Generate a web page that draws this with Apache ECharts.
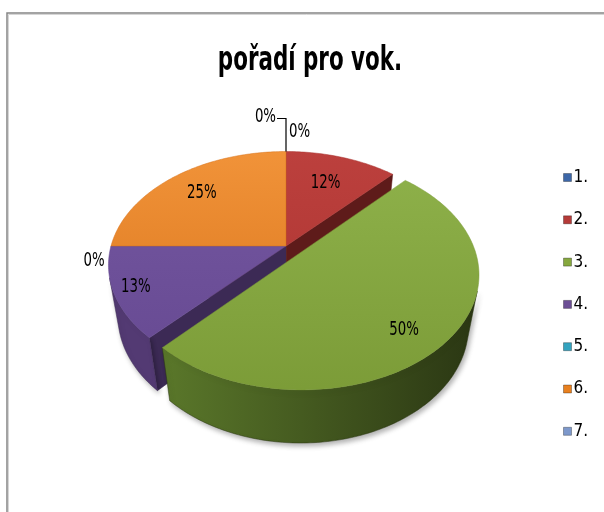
<!DOCTYPE html>
<html>
<head>
<meta charset="utf-8">
<title>pořadí pro vok.</title>
<script src="https://cdn.jsdelivr.net/npm/echarts@6/dist/echarts.min.js"></script>
<style>
  html, body { margin: 0; padding: 0; background: #fff; }
  #chart { width: 604px; height: 512px; }
</style>
</head>
<body>
<div id="chart"></div>
<script>
const categories = ['1.', '2.', '3.', '4.', '5.', '6.', '7.'];
const shares = [0, 12, 50, 13, 0, 25, 0];
const chartTitle = 'pořadí pro vok.';
const explodedSlice = '3.';

const FONT = "'Liberation Sans Narrow', 'DejaVu Sans Condensed', sans-serif";

// office 2007 colours, roughly as excel shades them
const legendColors = ['#3D67A8', '#B53A38', '#86A83E', '#6C4E95', '#33A3BF', '#E8801F', '#7D98CB'];
const topShade = {
  1: ['#BC403D', '#A9322F'],
  2: ['#8FB24B', '#7B9B37'],
  3: ['#7457A1', '#654890'],
  5: ['#F19339', '#D67118']
};
const wallShade = {
  1: ['#7A2624', '#5E1B1A'],
  2: ['#5C7A2B', '#2A3613'],
  3: ['#533A73', '#3C2A55'],
  5: ['#A85B18', '#8A4710']
};
// where the inner labels sit: radius (1 = rim) and a small turn in radians
const labelRadius = { 1: 0.68, 2: 0.8, 3: 0.88, 5: 0.74 };
const labelTurn = { 2: 0.1 };
// labels of empty slices, offset from their rim point
const zeroLabel = {
  0: { dx: 3, dy: -20, align: 'left' },
  4: { dx: -17, dy: 15, align: 'center' },
  6: { dx: -10, dy: -35, align: 'right', leader: true }
};

const total = shares.reduce((a, b) => a + b, 0);
const starts = [];
let acc = 0;
shares.forEach(v => { starts.push(acc / total * Math.PI * 2); acc += v; });
const explodedIndex = categories.indexOf(explodedSlice);

// simple perspective view of the tilted disc
const view = { cx: 286, cy: 246, f: 175, sinA: 0.631, cosA: 0.776, dist: 4.6, height: 0.4, explode: 0.1 };

function project(x, y, z) {
  const up = y * view.cosA - z * view.sinA;
  const dep = y * view.sinA + z * view.cosA;
  const s = view.dist / (view.dist - dep);
  return [view.cx + view.f * x * s, view.cy - view.f * up * s];
}
function depth(x, y, z) {
  return y * view.sinA + z * view.cosA;
}
// normal . (camera - point) > 0 means the face looks at us
function facing(n, p) {
  const c = [0, view.dist * view.sinA, view.dist * view.cosA];
  return n[0] * (c[0] - p[0]) + n[1] * (c[1] - p[1]) + n[2] * (c[2] - p[2]) > 0;
}

// the excel font is tall and narrow, squeeze ours a bit
function labelText(x, y, text, align) {
  return {
    type: 'text', z2: 200, x, y, scaleX: 0.74,
    style: { text, fill: '#000', fontSize: 20, fontFamily: FONT, align, verticalAlign: 'middle' }
  };
}

function renderSlice(params, api) {
  const i = params.dataIndex;
  const v = api.value(0);
  const a0 = starts[i];
  const a1 = a0 + v / total * Math.PI * 2;
  const mid = (a0 + a1) / 2;
  const ex = i === explodedIndex ? view.explode : 0;
  const ox = ex * Math.sin(mid);
  const oz = -ex * Math.cos(mid);
  const h = view.height;
  const pt3 = (a, r, y) => [ox + r * Math.sin(a), y, oz - r * Math.cos(a)];
  const rim = (a, r, y) => project.apply(null, pt3(a, r, y));
  const children = [];
  const pct = Math.round(v / total * 100) + '%';

  if (v > 0) {
    const steps = Math.max(2, Math.ceil((a1 - a0) / (Math.PI / 180)));
    const angles = [];
    for (let k = 0; k <= steps; k++) angles.push(a0 + (a1 - a0) * k / steps);

    // top face
    const topPts = [rim(0, 0, 0)].concat(angles.map(a => rim(a, 1, 0)));
    children.push({
      type: 'polygon', z2: 100,
      shape: { points: topPts },
      style: {
        fill: new echarts.graphic.LinearGradient(0, 150, 0, 400, [
          { offset: 0, color: topShade[i][0] }, { offset: 1, color: topShade[i][1] }
        ], true),
        stroke: topShade[i][1], lineWidth: 0.5
      }
    });

    // outer wall, only the parts turned to the viewer
    let run = [];
    const flush = () => {
      if (run.length > 1) {
        const pts = run.map(a => rim(a, 1, 0)).concat(run.slice().reverse().map(a => rim(a, 1, -h)));
        const am = run[Math.floor(run.length / 2)];
        children.push({
          type: 'polygon', z2: 10 + depth.apply(null, pt3(am, 1, -h / 2)) * 10,
          shape: { points: pts },
          style: {
            fill: new echarts.graphic.LinearGradient(150, 0, 480, 0, [
              { offset: 0, color: wallShade[i][0] }, { offset: 1, color: wallShade[i][1] }
            ], true),
            stroke: wallShade[i][1], lineWidth: 0.5,
            shadowBlur: 5, shadowColor: 'rgba(0,0,0,0.3)', shadowOffsetX: 2, shadowOffsetY: 3
          }
        });
      }
      run = [];
    };
    for (let k = 0; k < steps; k++) {
      const am = (angles[k] + angles[k + 1]) / 2;
      const vis = facing([Math.sin(am), 0, -Math.cos(am)], pt3(am, 1, -h / 2));
      if (vis) {
        if (!run.length) run.push(angles[k]);
        run.push(angles[k + 1]);
      } else {
        flush();
      }
    }
    flush();

    // radial walls
    [[a0, -1], [a1, 1]].forEach(([a, sgn]) => {
      const n = [sgn * Math.cos(a), 0, sgn * Math.sin(a)];
      const pm = pt3(a, 0.5, -h / 2);
      if (!facing(n, pm)) return;
      children.push({
        type: 'polygon', z2: 10 + depth.apply(null, pm) * 10,
        shape: { points: [rim(a, 0, 0), rim(a, 1, 0), rim(a, 1, -h), rim(a, 0, -h)] },
        style: { fill: wallShade[i][1], stroke: wallShade[i][1], lineWidth: 0.5 }
      });
    });

    const lp = rim(mid + (labelTurn[i] || 0), labelRadius[i] || 0.72, 0);
    children.push(labelText(lp[0], lp[1], pct, 'center'));
  } else {
    const cfg = zeroLabel[i] || { dx: 0, dy: -18, align: 'center' };
    const p = rim(a0, 1, 0);
    const lx = p[0] + cfg.dx;
    const ly = p[1] + cfg.dy;
    children.push(labelText(lx, ly, pct, cfg.align));
    if (cfg.leader) {
      children.push({
        type: 'polyline', z2: 200,
        shape: { points: [[lx + 1, ly + 2], [p[0], ly + 2], [p[0], p[1]]] },
        style: { stroke: '#000', lineWidth: 1.2, fill: null }
      });
    }
  }
  return { type: 'group', children };
}

const chart = echarts.init(document.getElementById('chart'));

chart.setOption({
  backgroundColor: '#fff',
  animation: false,
  legend: {
    orient: 'vertical',
    left: 563,
    top: 169,
    padding: 0,
    icon: 'rect',
    itemWidth: 8,
    itemHeight: 8,
    itemGap: 25.3,
    selectedMode: false,
    itemStyle: { borderColor: 'rgba(0,0,0,0.3)', borderWidth: 1 },
    textStyle: { fontFamily: FONT, fontSize: 17, lineHeight: 16, color: '#000', padding: [0, 0, 0, -3] },
    data: categories
  },
  graphic: [
    { type: 'rect', silent: true, shape: { x: 7, y: 13, width: 640, height: 560 },
      style: { fill: null, stroke: '#858585', lineWidth: 1.5 } },
    { type: 'rect', silent: true, shape: { x: 8.5, y: 14.5, width: 640, height: 560 },
      style: { fill: null, stroke: '#d6d6d6', lineWidth: 1 } },
    // chart title
    { type: 'text', silent: true, x: 310, y: 61, scaleX: 0.7,
      style: { text: chartTitle, fill: '#000', fontFamily: FONT, fontSize: 34, fontWeight: 'bold',
        align: 'center', verticalAlign: 'middle' } }
  ],
  series: [
    {
      type: 'custom',
      coordinateSystem: 'none',
      silent: true,
      renderItem: renderSlice,
      data: shares.map((v, i) => [v, i])
    },
    {
      // only feeds the legend
      type: 'pie',
      radius: [0, 0],
      center: [-50, -50],
      silent: true,
      label: { show: false },
      labelLine: { show: false },
      data: categories.map((c, i) => ({ name: c, value: shares[i], itemStyle: { color: legendColors[i] } }))
    }
  ]
});
</script>
</body>
</html>
